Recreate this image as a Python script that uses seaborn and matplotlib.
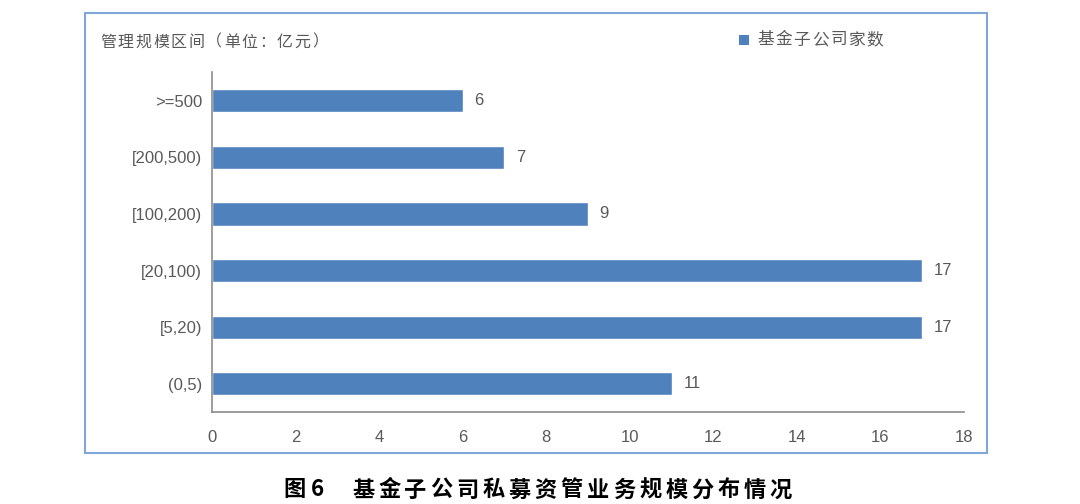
import matplotlib
matplotlib.use("Agg")
import matplotlib.pyplot as plt
import seaborn as sns
import pandas as pd
from matplotlib.patches import Rectangle

categories = [">=500", "[200,500)", "[100,200)", "[20,100)", "[5,20)", "(0,5)"]
counts = [6, 7, 9, 17, 17, 11]
x_ticks = [0, 2, 4, 6, 8, 10, 12, 14, 16, 18]
series_name = "基金子公司家数"
ylabel_text = "管理规模区间（单位：亿元）"
caption_num = "图"
caption_digit = "6"
caption = "基金子公司私募资管业务规模分布情况"

sns.set_theme(style="white")
plt.rcParams['font.family'] = ['Liberation Sans', 'Noto Sans CJK SC', 'DejaVu Sans']

df = pd.DataFrame({"cat": categories, "n": counts})
bar_color = "#4F81BD"
grey = "#595959"
cjk = ['Noto Sans CJK SC', 'DejaVu Sans']

fig = plt.figure(figsize=(10.8, 5.04), dpi=100)
W, H = 1080, 504
ax = fig.add_axes([212 / W, 1 - 412 / H, (964 - 212) / W, (412 - 72.5) / H])

sns.barplot(data=df, y="cat", x="n", orient="h", color=bar_color,
            width=0.41, saturation=1, ax=ax, order=categories)

ax.set_xlim(0, 18)
ax.set_xticks(x_ticks)
ax.set_xticklabels([str(t) for t in x_ticks])
ax.set_xlabel("")
ax.set_ylabel("")
for s in ["top", "right"]:
    ax.spines[s].set_visible(False)
for s in ["left", "bottom"]:
    ax.spines[s].set_color("#8c8c8c")
    ax.spines[s].set_linewidth(1.2)
ax.tick_params(axis="both", length=0, labelsize=12, labelcolor=grey)
ax.tick_params(axis="x", pad=13)
ax.tick_params(axis="y", pad=7)

for i, v in enumerate(counts):
    ax.text(v + 0.28, i, str(v), va="center", ha="left", fontsize=12, color=grey)

# outer border
fig.patches.append(Rectangle((85 / W, 1 - 453 / H), (987 - 85) / W, (453 - 13) / H,
                             transform=fig.transFigure, fill=False,
                             edgecolor="#7ea6d6", linewidth=1.5))

# axis title, drawn with the wide character pitch of the original
for k, ch in enumerate(ylabel_text):
    fig.text((100 + k * 17.7) / W, 1 - 42 / H, ch, fontsize=11.5, color=grey,
             va="center", ha="left", family=cjk)

# legend
fig.patches.append(Rectangle((739 / W, 1 - 45 / H), 10 / W, 10 / H,
                             transform=fig.transFigure, facecolor=bar_color,
                             edgecolor="none"))
for k, ch in enumerate(series_name):
    fig.text((757 + k * 18.3) / W, 1 - 40 / H, ch, fontsize=12, color=grey,
             va="center", ha="left", family=cjk)

# caption
fig.text(283 / W, 1 - 490 / H, caption_num, fontsize=16, color="black", weight="bold",
         va="center", ha="left", family=cjk)
fig.text(311 / W, 1 - 490 / H, caption_digit, fontsize=16, color="black", weight="bold",
         va="center", ha="left", family=cjk)
for k, ch in enumerate(caption):
    fig.text((352 + k * 26.1) / W, 1 - 490 / H, ch, fontsize=16, color="black",
             weight="bold", va="center", ha="left", family=cjk)

fig.savefig("out.png", dpi=100)
